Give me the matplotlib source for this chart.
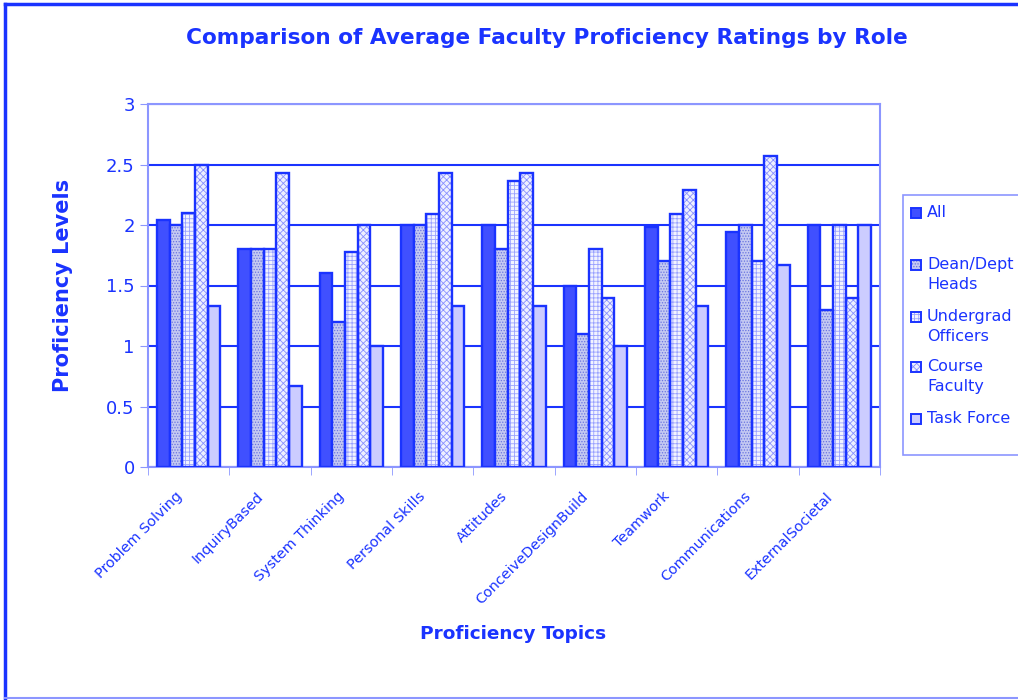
import numpy as np
import matplotlib
matplotlib.use("Agg")
import matplotlib.pyplot as plt
import matplotlib.transforms as mtransforms
from matplotlib.lines import Line2D
from matplotlib.patches import Rectangle

# data
topics = ['Problem Solving', 'InquiryBased', 'System Thinking', 'Personal Skills',
          'Attitudes', 'ConceiveDesignBuild', 'Teamwork', 'Communications',
          'ExternalSocietal']
roles = ['All', 'Dean/Dept\nHeads', 'Undergrad\nOfficers', 'Course\nFaculty', 'Task Force']
all_vals = [2.04, 1.80, 1.60, 2.00, 2.00, 1.50, 1.98, 1.94, 2.00]
dean_vals = [2.00, 1.80, 1.20, 2.00, 1.80, 1.10, 1.70, 2.00, 1.30]
undergrad_vals = [2.10, 1.80, 1.78, 2.09, 2.36, 1.80, 2.09, 1.70, 2.00]
course_vals = [2.50, 2.43, 2.00, 2.43, 2.43, 1.40, 2.29, 2.57, 1.40]
task_vals = [1.33, 0.67, 1.00, 1.33, 1.33, 1.00, 1.33, 1.67, 2.00]

series = [all_vals, dean_vals, undergrad_vals, course_vals, task_vals]
faces = ['#4050ff', '#c4c9f2', '#f2f3ff', '#eef0ff', '#ccccff']
hatches = [None, '......', '++++', 'xxxxx', None]
hatch_cols = [None, '#6a74e0', '#9aa2ff', '#8890ff', None]

BLUE = '#1a33ff'
LIGHT = '#8c96ff'
W, H = 1018, 700

plt.rcParams['hatch.linewidth'] = 0.6

fig = plt.figure(figsize=(W / 100, H / 100), dpi=100)
ax = fig.add_axes([148 / W, 1 - 467 / H, (880 - 148) / W, (467 - 104) / H])

x = np.arange(len(topics))
width = 0.155
for i, vals in enumerate(series):
    pos = x + (i - 2) * width
    if hatches[i]:
        # hatch layer in a lighter blue, then the strong outline on top
        ax.bar(pos, vals, width, color=faces[i], edgecolor=hatch_cols[i],
               linewidth=0, hatch=hatches[i], zorder=3)
        ax.bar(pos, vals, width, fill=False, edgecolor=BLUE, linewidth=1.7, zorder=4)
    else:
        ax.bar(pos, vals, width, color=faces[i], edgecolor=BLUE, linewidth=1.7, zorder=3)

ax.set_xlim(-0.5, len(topics) - 0.5)
ax.set_ylim(0, 3)
ax.set_yticks([0, 0.5, 1, 1.5, 2, 2.5, 3])
ax.set_yticklabels(['0', '0.5', '1', '1.5', '2', '2.5', '3'])
ax.yaxis.grid(True, color=BLUE, linewidth=1.5, zorder=0)
ax.set_axisbelow(True)

ax.set_xticks(x)
ax.set_xticklabels(topics, rotation=45, ha='right', rotation_mode='anchor',
                   fontsize=10.4, color=BLUE)
ax.tick_params(axis='x', length=0, pad=8)
shift = mtransforms.ScaledTranslation(-14 / 100, -11 / 100, fig.dpi_scale_trans)
for lbl in ax.get_xticklabels():
    lbl.set_transform(lbl.get_transform() + shift)
ax.set_xticks(np.arange(len(topics) + 1) - 0.5, minor=True)
ax.tick_params(axis='x', which='minor', length=6, color=LIGHT, direction='out')
ax.tick_params(axis='y', labelsize=13, labelcolor=BLUE, color=LIGHT, length=6)

for s in ax.spines.values():
    s.set_color(LIGHT)
    s.set_linewidth(1.5)

ax.set_ylabel('Proficiency Levels', fontsize=15, fontweight='bold', color=BLUE)
ax.yaxis.set_label_coords((73 - 148) / 732, 0.5)
ax.set_xlabel('Proficiency Topics', fontsize=13.3, fontweight='bold', color=BLUE)
ax.xaxis.set_label_coords(0.4986, -(634 - 467) / 363)
ax.xaxis.label.set_va('center')
fig.text(547 / W, 1 - 38 / H, 'Comparison of Average Faculty Proficiency Ratings by Role',
         ha='center', va='center', fontsize=15.6, fontweight='bold', color=BLUE)

# legend box, drawn by hand so the key squares sit beside the first text line
fig.add_artist(Rectangle((903 / W, 1 - 455 / H), 0.2, (455 - 195) / H,
                         transform=fig.transFigure, facecolor='white',
                         edgecolor=LIGHT, linewidth=1.2))
entry_y = [213, 265, 317, 367, 419]
for i, lab in enumerate(roles):
    yc = 1 - entry_y[i] / H
    sq = (10 / W, 10 / H)
    if hatches[i]:
        fig.add_artist(Rectangle((911 / W, yc - sq[1] / 2), sq[0], sq[1],
                                 transform=fig.transFigure, facecolor=faces[i],
                                 edgecolor=hatch_cols[i], linewidth=0, hatch=hatches[i]))
        fig.add_artist(Rectangle((911 / W, yc - sq[1] / 2), sq[0], sq[1],
                                 transform=fig.transFigure, fill=False,
                                 edgecolor=BLUE, linewidth=1.4))
    else:
        fig.add_artist(Rectangle((911 / W, yc - sq[1] / 2), sq[0], sq[1],
                                 transform=fig.transFigure, facecolor=faces[i],
                                 edgecolor=BLUE, linewidth=1.4))
    fig.text(927 / W, yc + 8 / H, lab, ha='left', va='top', fontsize=11.5,
             color=BLUE, linespacing=1.45)

# outer chart border
fig.add_artist(Line2D([5 / W, 5 / W], [2 / H, 1 - 4 / H], transform=fig.transFigure,
                      color=BLUE, linewidth=2.5))
fig.add_artist(Line2D([5 / W, 1.0], [1 - 4 / H, 1 - 4 / H], transform=fig.transFigure,
                      color=BLUE, linewidth=2.5))
fig.add_artist(Line2D([5 / W, 1.0], [2 / H, 2 / H], transform=fig.transFigure,
                      color=LIGHT, linewidth=1.5))

fig.savefig('out.png', dpi=100, facecolor='white')
